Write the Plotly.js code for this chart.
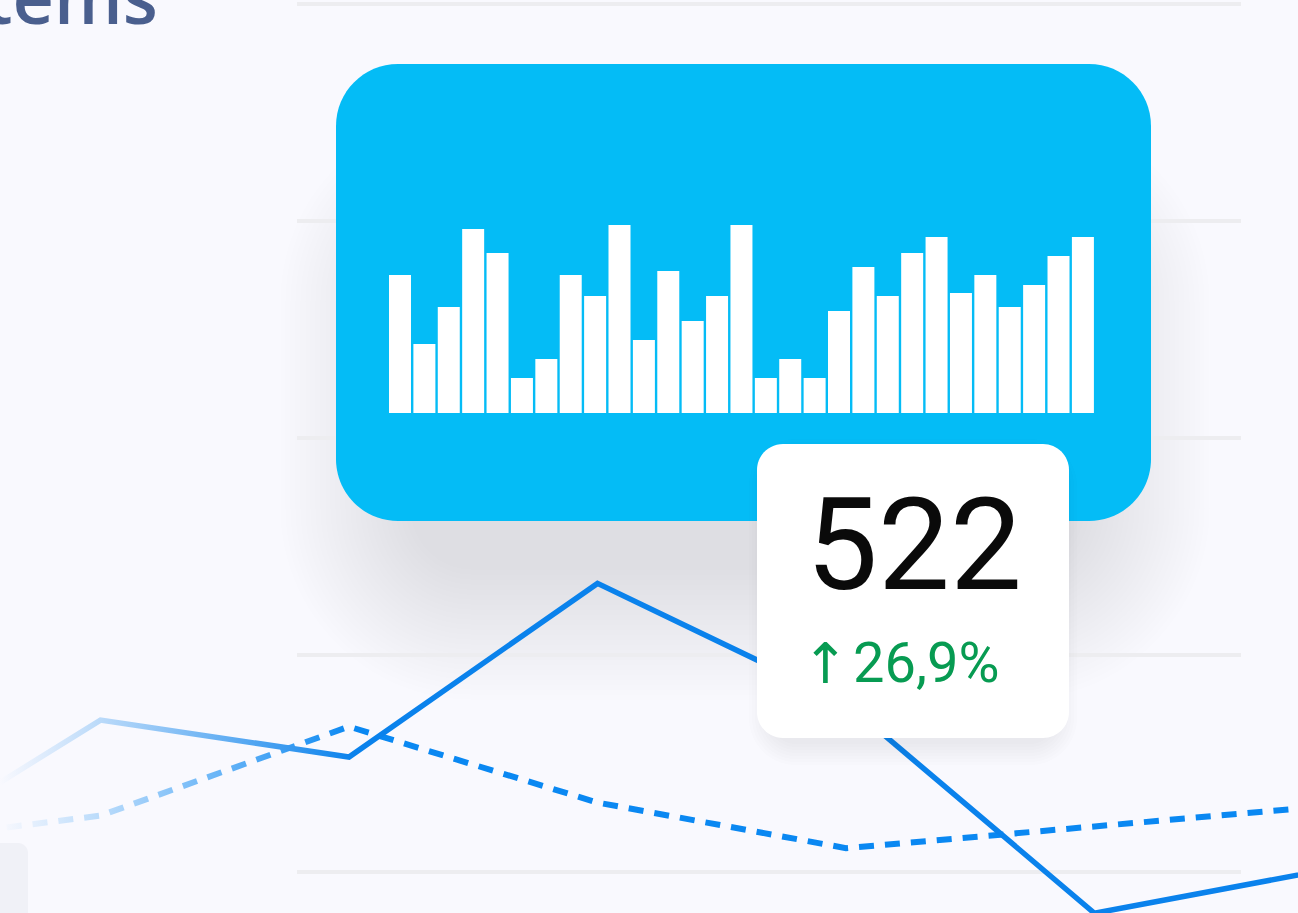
<!DOCTYPE html>
<html><head><meta charset="utf-8">
<script src="https://cdn.plot.ly/plotly-3.0.1.min.js"></script>
<style>html,body{margin:0;padding:0;background:#F9F9FE;overflow:hidden}#chart{width:1298px;height:913px}</style>
</head><body><div id="chart"></div>
<script>
// ---- data ----
const periods = ['Jan', 'Feb', 'Mar', 'Apr', 'May', 'Jun', 'Jul'];
const currentSeries = [-1, 70, 53, 133, 78, -19, 2.5];
const previousSeries = [11.5, 26, 67, 32, 11, 21, 31];
const gridValues = [0, 100, 200, 300, 400];
const barDays = ['1','2','3','4','5','6','7','8','9','10','11','12','13','14','15','16','17','18','19','20','21','22','23','24','25','26','27','28','29'];
const barValues = [138, 69, 106, 184, 160, 35, 54, 138, 117, 188, 73, 142, 92, 117, 188, 35, 54, 35, 102, 146, 117, 160, 176, 120, 138, 106, 128, 157, 176];
const headlineValue = '522';
const changeArrow = '↑';
const changeLabel = '26,9%';
const titleFragment = 'Items';

// ---- helpers (page pixels -> paper fractions) ----
const W = 1298, H = 913;
const px = x => x / W;
const py = y => 1 - y / H;
function roundRect(x0, y0, x1, y1, r) {
  const k = 0.5523 * r;
  const P = (x, y) => px(x).toFixed(5) + ',' + py(y).toFixed(5);
  return 'M' + P(x0 + r, y0) + ' L' + P(x1 - r, y0) +
    ' C' + P(x1 - r + k, y0) + ' ' + P(x1, y0 + r - k) + ' ' + P(x1, y0 + r) +
    ' L' + P(x1, y1 - r) +
    ' C' + P(x1, y1 - r + k) + ' ' + P(x1 - r + k, y1) + ' ' + P(x1 - r, y1) +
    ' L' + P(x0 + r, y1) +
    ' C' + P(x0 + r - k, y1) + ' ' + P(x0, y1 - r + k) + ' ' + P(x0, y1 - r) +
    ' L' + P(x0, y0 + r) +
    ' C' + P(x0, y0 + r - k) + ' ' + P(x0 + r - k, y0) + ' ' + P(x0 + r, y0) + ' Z';
}
// soft shadow approximated by stacked, growing translucent rounded rectangles
function softShadow(x0, y0, x1, y1, r, steps, step, alpha, layer) {
  const out = [];
  for (let i = steps; i >= 0; i--) {
    const e = i * step;
    out.push({ type: 'path', xref: 'paper', yref: 'paper', layer: layer,
      path: roundRect(x0 - e, y0 - e, x1 + e, y1 + e, r + e),
      fillcolor: 'rgba(48,48,60,' + alpha + ')', line: { width: 0 } });
  }
  return out;
}
function svgUri(inner) {
  const s = "<svg xmlns='http://www.w3.org/2000/svg' width='1298' height='913' viewBox='0 0 1298 913' preserveAspectRatio='none'>" + inner + "</svg>";
  return 'data:image/svg+xml;charset=utf-8,' + encodeURIComponent(s);
}
const fadeLeft = svgUri(
  "<defs><linearGradient id='g' x1='0' x2='1' y1='0' y2='0'>" +
  "<stop offset='0' stop-color='#F9F9FE' stop-opacity='1'/>" +
  "<stop offset='0.3' stop-color='#F9F9FE' stop-opacity='0.72'/>" +
  "<stop offset='1' stop-color='#F9F9FE' stop-opacity='0'/></linearGradient></defs>" +
  "<rect x='0' y='690' width='355' height='150' fill='url(#g)'/>");

const shapes = [];
softShadow(410, 240, 1080, 570, 62, 26, 5, 0.0058, 'below').forEach(s => shapes.push(s));
gridValues.forEach(v => shapes.push({
  type: 'line', xref: 'paper', yref: 'y', x0: px(297), x1: px(1241), y0: v, y1: v,
  line: { color: '#EDEDF0', width: 4 }, layer: 'below'
}));
shapes.push({ type: 'path', xref: 'paper', yref: 'paper', path: roundRect(-12, 843, 28, 930, 10),
  fillcolor: '#F0F1F7', line: { width: 0 }, layer: 'below' });
shapes.push({ type: 'path', xref: 'paper', yref: 'paper', path: roundRect(336, 64, 1151, 521, 62),
  fillcolor: '#04BCF6', line: { width: 0 }, layer: 'below' });
softShadow(770, 460, 1056, 744, 26, 7, 3, 0.01, 'above').forEach(s => shapes.push(s));
shapes.push({ type: 'path', xref: 'paper', yref: 'paper', path: roundRect(757, 444, 1069, 738, 26),
  fillcolor: '#FFFFFF', line: { width: 0 }, layer: 'above' });

const traces = [
  { type: 'scatter', mode: 'lines', x: periods, y: previousSeries, xaxis: 'x', yaxis: 'y',
    line: { color: '#0A88F2', width: 6, dash: '15px,11px' }, hoverinfo: 'skip' },
  { type: 'scatter', mode: 'lines', x: periods, y: currentSeries, xaxis: 'x', yaxis: 'y',
    line: { color: '#0A82EC', width: 5.5 }, hoverinfo: 'skip' },
  { type: 'bar', x: barDays, y: barValues, xaxis: 'x2', yaxis: 'y2',
    marker: { color: '#FFFFFF', line: { width: 0 } }, hoverinfo: 'skip' }
];

const layout = {
  width: W, height: H, margin: { l: 0, r: 0, t: 0, b: 0, pad: 0 },
  paper_bgcolor: '#F9F9FE', plot_bgcolor: 'rgba(0,0,0,0)', showlegend: false,
  xaxis: { type: 'category', range: [0.5956, 5.819], visible: false, fixedrange: true },
  yaxis: { range: [-18.89, 401.84], visible: false, fixedrange: true },
  xaxis2: { type: 'category', domain: [0.29877, 0.84368], anchor: 'y2', range: [-0.5, 28.5], visible: false },
  yaxis2: { domain: [0.54765, 0.76670], anchor: 'x2', range: [0, 200], visible: false },
  bargap: 0.098,
  shapes: shapes,
  images: [
    { source: fadeLeft, xref: 'paper', yref: 'paper', x: 0, y: 1, sizex: 1, sizey: 1, xanchor: 'left', yanchor: 'top', sizing: 'stretch', layer: 'above' }
  ],
  annotations: [
    { text: titleFragment, xref: 'paper', yref: 'paper', x: px(160), y: py(-4), xanchor: 'right', yanchor: 'middle',
      showarrow: false, font: { family: 'Open Sans', size: 72, weight: 600, color: '#4A5F8E' } },
    { text: headlineValue, xref: 'paper', yref: 'paper', x: px(914), y: py(545), xanchor: 'center', yanchor: 'middle',
      showarrow: false, font: { family: 'Roboto', size: 128, color: '#0A0A0A' } },
    { text: changeArrow, xref: 'paper', yref: 'paper', x: px(825), y: py(663), xanchor: 'center', yanchor: 'middle',
      showarrow: false, font: { family: 'DejaVu Sans', size: 56, color: '#079B52' } },
    { text: changeLabel, xref: 'paper', yref: 'paper', x: px(851), y: py(663), xanchor: 'left', yanchor: 'middle',
      showarrow: false, font: { family: 'Roboto', size: 56, color: '#079B52' } }
  ]
};

Plotly.newPlot('chart', traces, layout, { staticPlot: true, displayModeBar: false });
</script>
</body></html>
